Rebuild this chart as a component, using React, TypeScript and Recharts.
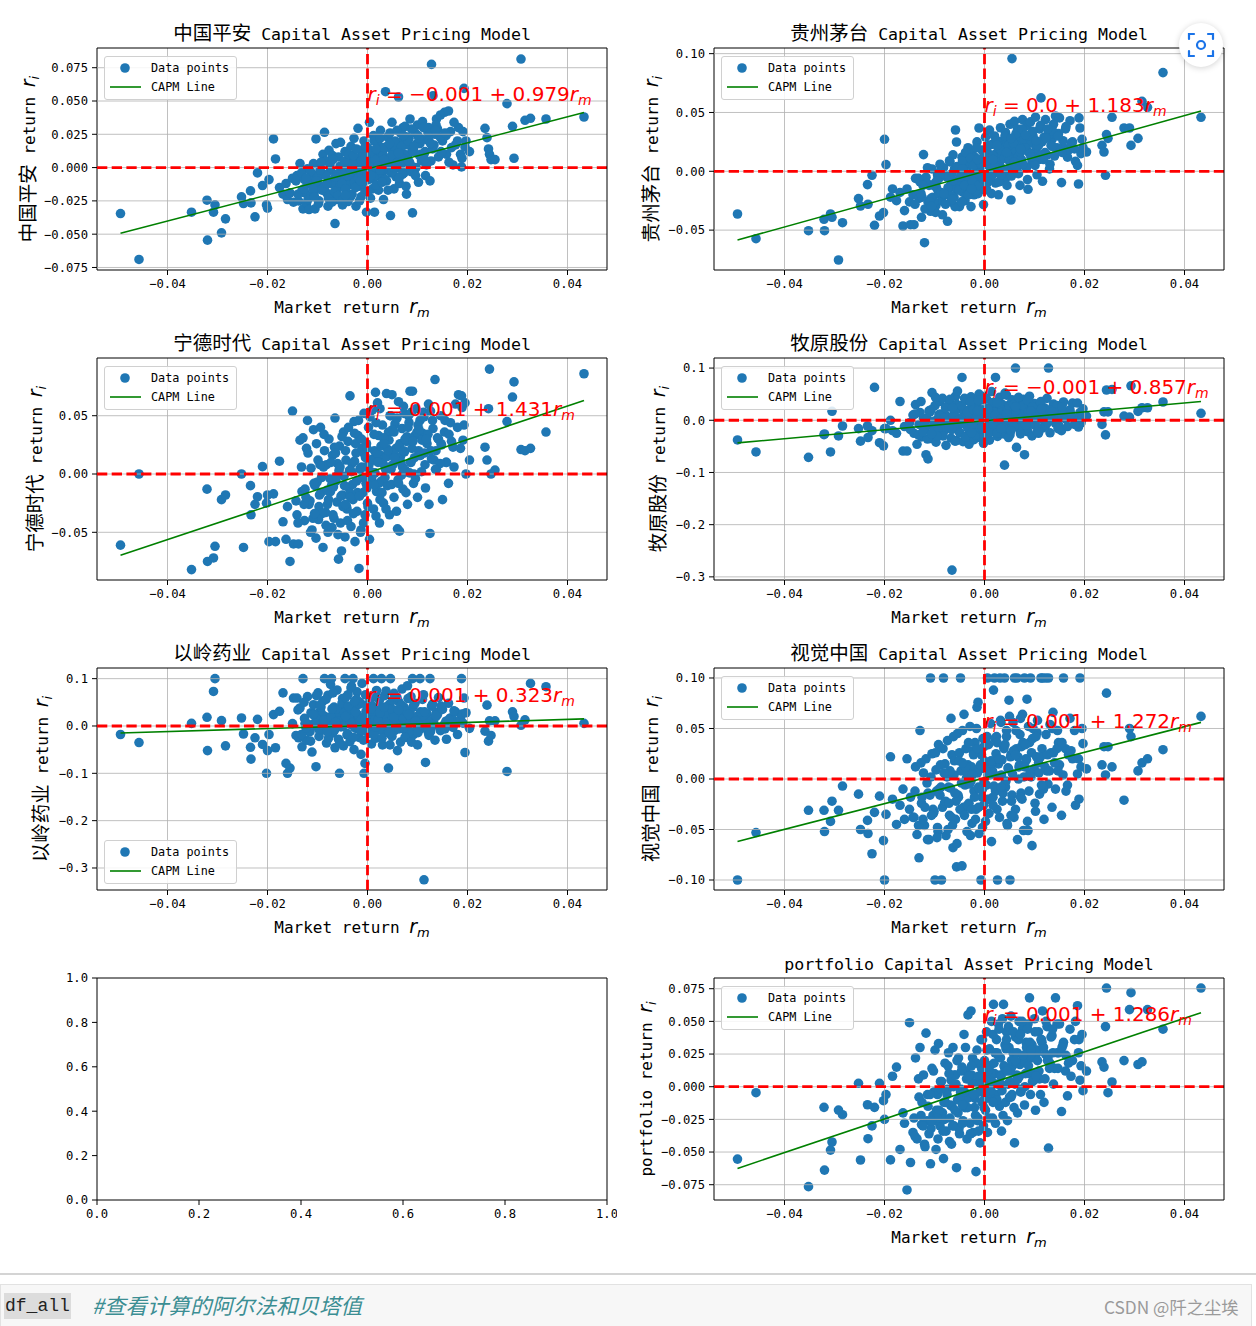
import { ReferenceLine, Scatter, ScatterChart, XAxis, YAxis } from 'recharts'

// market daily return (%), shared by every panel
const marketReturn = [
  -4.94, -4.57, -3.52, -3.21, -3.2, -3.08, -3.05, -2.92, -2.84, -2.52,
  -2.48, -2.34, -2.33, -2.25, -2.2, -2.1, -2.02, -2.0, -1.97, -1.88,
  -1.84, -1.76, -1.69, -1.63, -1.6, -1.55, -1.5, -1.48, -1.43,
  -1.41, -1.38, -1.35, -1.31, -1.29, -1.26, -1.22, -1.2, -1.17, -1.13,
  -1.11, -1.08, -1.05, -1.03, -0.99, -0.97, -0.94, -0.92, -0.89, -0.86,
  -0.84, -0.82, -0.79, -0.77, -0.74, -0.72, -0.7, -0.67, -0.65, -0.63,
  -0.61, -0.58, -0.56, -0.54, -0.52, -0.5, -0.48, -0.45, -0.43, -0.41,
  -0.39, -0.37, -0.35, -0.33, -0.31, -0.29, -0.27, -0.25, -0.23, -0.21,
  -0.19, -0.17, -0.15, -0.13, -0.11, -0.09, -0.07, -0.05, -0.03, -0.02,
  0.0, 0.02, 0.04, 0.06, 0.08, 0.1, 0.12, 0.14, 0.16, 0.18,
  0.2, 0.22, 0.24, 0.26, 0.28, 0.3, 0.32, 0.34, 0.36, 0.38,
  0.4, 0.42, 0.44, 0.46, 0.49, 0.51, 0.53, 0.55, 0.57, 0.6,
  0.62, 0.64, 0.66, 0.69, 0.71, 0.73, 0.76, 0.78, 0.8, 0.83,
  0.85, 0.87, 0.9, 0.92, 0.95, 0.97, 1.0, 1.02, 1.05, 1.08,
  1.1, 1.13, 1.16, 1.19, 1.22, 1.25, 1.28, 1.31, 1.35, 1.38,
  1.42, 1.46, 1.5, 1.54, 1.58, 1.62, 1.66, 1.71, 1.76, 1.82,
  -0.96, -0.88, -0.8, -0.75, -0.68, -0.6, -0.53, -0.47, -0.42, -0.36,
  -0.3, -0.26, -0.2, -0.14, -0.1, -0.06, -0.01, 0.03, 0.07, 0.11,
  0.15, 0.19, 0.23, 0.27, 0.31, 0.35, 0.39, 0.43, 0.47, 0.52,
  0.56, 0.61, 0.65, 0.7, 0.74, 0.79, 0.84, 0.89, 0.94, 0.99,
  1.04, 1.09, 1.15, 1.21, 1.27, 1.33, 1.4, 1.48, 1.57, 1.68,
  -1.25, -1.15, -1.01, -0.91, -0.57, -0.34, -0.12, 0.13, 0.41, 0.67,
  1.86, 1.88, 1.89, 1.91, 1.93, 1.95, 1.97, 2.04, 2.35, 2.39,
  2.42, 2.44, 2.47, 2.55, 2.79, 2.9, 2.93, 3.07, 3.15, 3.26,
  3.57, 4.33,
  -1.39, -1.32, -1.27, -1.19, -1.14, -1.07, -1.02, -0.98, -0.93, -0.87,
  -0.83, -0.78, -0.73, -0.69, -0.66, -0.62, -0.59, -0.55, -0.51, -0.49,
  -0.46, -0.44, -0.4, -0.38, -0.34, -0.32, -0.28, -0.24, -0.22, -0.18,
  -0.16, -0.12, -0.08, -0.04, -0.01, 0.01, 0.05, 0.09, 0.13, 0.17,
  0.21, 0.25, 0.29, 0.33, 0.37, 0.41, 0.45, 0.48, 0.5, 0.54,
  0.58, 0.59, 0.63, 0.68, 0.72, 0.75, 0.77, 0.81, 0.86, 0.88,
  0.91, 0.96, 1.01, 1.06, 1.12, 1.18, 1.23, 1.3, 1.37, 1.45,
  -1.23, -1.09, -0.95, -0.81, -0.71, -0.64, -0.44, -0.26, -0.14, -0.04,
  0.07, 0.17, 0.25, 0.33, 0.44, 0.53, 0.62, 0.72, 0.82, 0.93,
  1.03, 1.14, 1.26, 1.36, 1.47, 1.55, 1.63, 1.73, 1.8, -1.06,
]

// stock / portfolio daily returns (%), same order as marketReturn
const pingAn = [
  -3.45, -6.9, -3.35, -2.45, -5.45, -3.35, -2.8, -4.9, -3.85, -2.2,
  -2.7, -1.75, -2.65, -3.7, -0.4, -1.35, -2.8, -3.05, -0.9, 2.15,
  0.65, -1.5, -2.0, -1.2, -2.4, -1.9, -0.8, -2.6, -1.0,
  -0.6, -2.5, 0.3, -1.7, -3.1, -0.9, -2.7, -0.1, -3.15, -0.6,
  -2.1, 0.3, -3.1, 2.15, -0.8, -2.5, 0.0, -1.4, 1.0, 2.65,
  -1.8, 0.5, -2.9, 1.3, -0.2, -2.2, 0.9, -1.1, -4.2, 1.8,
  -2.4, 0.8, -1.3, 1.9, -0.7, -2.8, 0.2, 1.2, -1.9, -0.3,
  -2.55, 0.9, -1.1, 1.6, -2.0, 0.1, 2.2, -0.8, -2.9, 0.6,
  2.95, -1.4, 0.7, -2.2, 1.3, -0.6, 2.0, -1.8, 0.3, -3.35,
  1.5, -0.9, 3.4, -2.3, 0.4, -1.6, 2.4, -3.35, 0.9, -0.3,
  1.9, -1.7, 0.7, 2.8, -0.5, 1.2, -2.4, 0.2, 5.7, -1.0,
  2.3, -0.2, 1.5, -3.6, 3.4, 0.4, -1.6, 2.0, -0.7, 1.1,
  5.3, -1.2, 2.6, 0.3, 3.0, -0.4, 1.7, -2.0, 0.9, 2.2,
  3.65, -0.3, -3.4, 1.4, 2.6, 0.0, 3.2, -1.1, 1.8, 0.5,
  3.45, 1.0, -0.6, 2.1, 3.0, -1.0, 7.75, 5.4, 2.5, 3.65,
  0.8, 3.95, 2.0, 4.15, 1.0, 4.25, 2.7, 0.2, 1.7, 3.0,
  -1.5, -0.5, -2.0, 0.2, -0.9, -1.6, -0.2, -1.0, 0.4, -1.3,
  0.3, -1.1, -0.4, 0.8, -1.2, 0.5, -0.5, 0.9, -0.8, 0.2,
  0.6, -0.6, 1.3, -0.2, 0.9, -0.9, 1.6, 0.3, -0.4, 0.9,
  1.4, 0.0, 1.9, -0.5, 1.0, 2.3, 0.4, 1.3, -0.2, 1.8,
  0.9, 2.1, 1.2, 2.6, 0.5, 1.7, 2.9, 1.1, 2.4, 1.5,
  -1.9, -1.2, -0.6, -1.7, -0.9, -0.2, 0.1, -0.7, 0.5, 0.8,
  1.0, 0.05, 0.7, 2.7, 5.95, 1.55, 2.0, 1.2, 2.95, 2.25,
  1.4, 1.0, 0.6, 0.6, 4.8, 3.1, 0.7, 8.15, 3.55, 3.7,
  3.65, 3.8,
  -2.0, -0.4, -1.6, -2.4, -0.3, -1.9, -1.0, -2.7, 0.4, -1.5,
  -0.6, -2.3, -1.2, 0.6, -1.8, -0.5, -2.1, 0.1, -1.2, -2.4,
  0.5, -1.6, -0.6, 1.0, -2.2, -0.3, 0.9, -1.5, 1.4, -0.8,
  -2.5, 0.5, -1.0, 1.6, -0.3, -1.8, 1.1, 0.0, 2.0, -1.3,
  0.1, 2.2, -1.1, 1.5, 0.5, -1.7, 2.6, 0.9, -0.3, 1.9,
  0.3, 2.8, -0.8, 1.6, 0.6, 3.1, -1.4, 2.0, 0.2, 2.9,
  1.2, -0.6, 2.4, 1.0, 3.0, 0.2, 2.0, 1.4, 3.2, 2.3,
  -0.8, -1.6, -0.2, -1.2, -2.6, -0.7, -2.1, -0.1, -1.0, 0.8,
  -0.6, 1.4, -0.2, 0.6, 1.8, 0.0, 1.1, 2.4, 0.5, 1.6,
  2.2, 0.6, 1.8, 2.8, 1.2, 2.6, 0.4, 3.4, 2.0, -2.2,
]

const maotai = [
  -3.63, -5.73, -5.05, -4.08, -5.05, -3.63, -3.91, -7.54, -4.37, -2.32,
  -2.95, -1.13, -2.8, -0.34, -4.59, -3.8, -3.51, 2.72, 0.57, -2.2,
  -1.5, -2.5, -1.8, -4.65, -3.34, -1.5, -2.6, -4.54, -2.0,
  -4.54, -0.6, -2.0, -2.3, -0.9, -3.91, 1.42, -6.07, -0.5, -2.6,
  -1.2, -3.4, 0.2, -2.2, -1.0, -2.9, -0.3, -1.9, 0.6, -2.5,
  -3.7, 0.3, -2.0, -0.4, -4.25, -1.5, 0.9, -2.6, -0.2, 1.4,
  -2.2, 3.51, 2.49, -1.0, 0.4, -3.0, -0.7, 1.2, -1.8, 0.0,
  -2.5, 1.0, -0.9, 2.0, -1.6, 0.5, -3.0, 1.5, -0.4, -2.0,
  1.2, -0.9, 2.5, -1.9, 3.68, 0.3, -1.3, 1.8, -0.6, -2.83,
  0.8, 2.9, -1.5, 1.6, -0.3, 3.5, 0.2, -1.9, 2.3, 1.0,
  3.0, -1.0, 1.4, 2.2, -2.0, 0.6, 3.7, 1.1, -0.8, 2.6,
  1.5, 3.3, -0.5, 2.4, 0.9, 4.0, -2.44, 9.58, 1.8, 4.25,
  2.9, 0.2, 3.6, 1.3, -1.2, 2.6, 4.4, 0.5, 3.1, 1.9,
  3.9, -1.53, 2.4, 4.2, 0.8, 3.0, 1.6, 4.6, -0.3, 2.2,
  3.6, 6.24, -0.85, 2.9, 4.4, 1.4, 3.3, 0.6, 2.7, 4.0,
  4.7, 3.1, 4.54, -0.96, 2.0, 3.6, 1.2, 4.3, 2.5, 0.85,
  -1.4, 0.0, -1.9, -0.5, -1.2, 0.2, -0.9, -0.1, -1.3, 0.5,
  -0.7, 0.8, -1.1, 0.3, -0.2, 1.0, -0.8, 0.6, 1.3, -0.4,
  0.9, -0.2, 1.5, 0.4, 1.9, -0.5, 1.1, 2.1, 0.2, 1.4,
  0.6, 1.8, -0.1, 2.2, 1.0, 2.7, 0.3, 1.6, 2.4, 0.9,
  2.0, 1.0, 2.5, 1.6, 3.0, 2.2, 1.3, 3.2, 2.6, 1.8,
  -2.2, -1.0, -2.6, -0.6, -1.5, 0.7, -0.2, 0.4, -0.5, 1.2,
  0.5, -1.08, 4.54, 3.68, 1.5, 2.72, 2.0, 1.64, 2.21, 1.64,
  -0.34, 3.12, 2.8, 4.59, 3.68, 3.68, 2.2, 2.8, 5.95, 5.44,
  8.39, 4.59,
  -2.8, -0.6, -1.9, -3.2, 0.3, -2.3, -1.2, -3.5, -0.4, -1.8,
  -0.2, -2.8, -1.4, 0.8, -2.1, -0.8, -3.0, 0.4, -1.6, -0.5,
  -2.6, 0.9, -1.2, 1.6, -0.4, -2.0, 1.1, -0.9, 0.5, -1.7,
  2.0, -1.2, 0.7, -0.6, 1.5, -1.6, 0.9, 2.2, -0.5, 1.3,
  0.4, 2.6, -0.9, 1.8, 0.2, 3.0, -1.2, 2.2, 1.0, -0.4,
  2.4, 0.8, 3.2, -0.2, 1.6, 3.6, 0.6, 2.0, -0.7, 3.0,
  1.5, 3.4, 0.5, 2.2, 3.9, 1.0, 2.8, 0.2, 3.4, 2.0,
  -1.2, -2.6, -0.8, -1.9, -0.4, -2.4, 0.2, -1.5, 1.0, -0.4,
  -0.9, 1.0, 2.2, -0.3, 1.6, 2.8, 0.4, 1.9, 3.1, 1.2,
  2.6, 1.4, 3.6, 2.1, 3.0, 1.6, 3.8, 2.4, 1.9, -3.0,
]

const ningde = [
  -6.1, 0.0, -8.2, -1.3, -7.5, -7.2, -6.2, -2.2, -1.8, 0.0,
  -6.3, -1.0, -3.5, -2.6, -1.95, 0.63, -2.5, -1.8, -5.8, -1.7,
  -5.8, 1.1, -4.1, -5.6, -2.8, -7.5, 5.4, -6.0, -2.3,
  -3.5, -6.0, 2.9, -1.5, 3.1, -4.0, 2.2, 4.6, -2.6, 0.5,
  -4.8, 3.8, -1.0, -5.5, 1.2, -2.8, 4.0, -0.3, -6.3, 2.0,
  -3.3, 0.8, -5.0, 3.0, -1.5, -1.0, 1.6, -3.8, 4.8, -0.6,
  -2.4, -7.3, 2.4, -4.2, -6.6, -1.8, 3.6, -5.4, 1.2, -3.0,
  2.8, -1.2, 6.7, -4.5, 0.9, -2.2, 4.5, -5.8, 1.8, -3.2,
  3.3, -8.1, 0.4, -4.8, 2.2, -1.6, 5.2, -3.5, -0.8, 2.6,
  -2.5, 4.0, -5.6, 1.1, -0.4, 5.5, -3.0, 2.0, 7.0, -1.5,
  6.1, 3.3, -4.2, 1.6, -0.6, 4.2, -2.5, 2.9, 0.4, 6.9,
  -1.0, 3.6, -3.5, 5.0, 6.8, 0.8, -2.0, 4.3, 2.2, -4.7,
  6.2, -4.9, 1.5, 3.9, -1.3, 5.2, 0.3, 2.8, -2.6, 4.4,
  7.1, 1.0, 7.1, -0.8, 3.3, 5.6, -2.0, 2.0, 4.6, 0.2,
  3.5, 4.9, -1.2, 2.6, 6.0, -5.1, 1.3, 3.9, 8.1, 0.4,
  3.0, 5.0, -2.2, 3.6, 1.0, -0.8, 4.4, 2.3, 6.0, 6.8,
  -1.8, 0.6, -2.6, -0.4, -1.1, 0.9, -1.9, -0.2, -2.8, 0.3,
  -0.9, 1.1, -1.6, 0.5, -0.3, 1.7, -1.2, 0.8, -0.6, 1.3,
  0.1, 1.8, -0.8, 2.4, 0.9, -0.3, 1.5, 2.9, 0.4, 1.9,
  1.2, -0.5, 2.6, 0.6, 1.9, 3.2, 0.1, 2.2, 1.4, 3.6,
  1.6, 2.9, 0.8, 3.4, 2.0, 1.2, 3.1, 2.5, 1.0, 2.8,
  -1.3, -2.3, -0.7, -3.4, 0.3, -1.7, 0.6, -0.9, 2.1, 1.0,
  2.2, 6.7, 5.7, 2.9, 4.2, 6.1, 0.0, 1.2, 2.3, 1.2,
  5.6, 9.0, 0.0, 0.34, 4.5, 6.6, 7.9, 2.1, 2.0, 2.2,
  3.6, 8.6,
  -4.2, 0.6, -2.6, 1.8, -5.0, -0.8, 2.6, -3.9, -1.6, 3.4,
  -4.4, -2.2, 1.0, -3.5, 2.3, -0.2, -5.2, 0.6, 3.2, -2.8,
  -1.0, 2.0, -4.0, 4.0, -2.0, 0.2, -3.4, 2.6, -0.6, 4.6,
  -1.9, 3.0, -4.2, 0.6, 2.2, -2.8, 4.9, -0.2, 3.4, -3.6,
  1.0, 5.6, -1.6, 3.1, -3.0, 2.0, 5.0, -0.9, 3.8, 1.4,
  -3.2, 4.8, 2.4, -0.1, 5.8, 3.0, -1.6, 4.0, 1.0, 5.3,
  2.8, -0.4, 4.2, 1.6, 5.3, 3.0, -2.6, 4.6, 2.0, 0.9,
  -2.0, -3.8, 0.8, -1.4, -4.6, 1.8, -2.6, 3.5, -5.0, 1.4,
  0.2, 4.4, -2.2, 2.6, 0.6, 3.6, -0.8, 2.0, 5.0, 0.0,
  3.8, 1.8, 5.4, 0.4, 2.6, 4.6, 3.4, 0.6, 4.0, -3.4,
]

const muyuan = [
  -3.77, -6.07, -7.1, -2.76, -2.62, -6.07, 1.72, -3.0, -1.1, -1.6,
  -4.0, -1.1, -3.3, -2.0, 6.3, -4.3, -4.9, -1.6, -1.6, 0.0,
  -2.0, -2.5, 3.6, -5.9, -1.2, -5.9, -0.5, -1.8, 1.0,
  -2.5, 3.0, -4.6, -0.8, 1.5, -3.2, 0.4, -1.9, -6.6, -7.4,
  1.8, -3.5, 5.3, -1.2, 2.8, -4.2, 0.2, -2.6, 3.6, -0.5,
  4.2, -2.2, 1.0, -4.8, 2.6, -0.9, 3.3, -3.4, -28.7, 0.6,
  -1.6, 4.6, -3.9, 5.6, 0.3, -2.3, 2.2, 8.2, -4.1, 1.4,
  -0.7, 3.8, -3.0, 1.9, -4.6, 0.6, 4.5, -1.8, 2.6, -3.7,
  0.9, -2.4, 3.0, -0.4, 5.0, -3.3, 1.5, -1.1, 3.9, -4.4,
  1.2, -2.0, 4.1, -0.3, 2.4, -3.8, 0.7, 5.5, -1.4, 3.2,
  -0.9, 8.2, 2.7, -3.1, 1.3, 4.4, -1.9, 0.2, 3.0, -2.6,
  -8.6, 1.9, 4.8, -1.3, 2.9, -2.8, 0.6, 3.9, -0.4, 2.1,
  10.0, -5.2, 1.6, 3.6, -1.8, 2.4, -0.7, 4.0, -6.6, 1.2,
  2.9, -2.2, 4.6, 0.4, -3.0, 1.8, 3.2, -1.0, 2.2, -2.5,
  1.0, 3.6, -1.5, 2.4, 0.1, 4.2, 10.0, -2.4, 1.7, 3.1,
  -0.6, 2.4, 1.0, -2.0, 3.5, 0.5, -1.2, 2.0, 3.3, 0.3,
  -0.8, 1.2, -1.5, 0.7, -0.2, 1.6, -1.0, 0.4, -0.6, 1.0,
  0.2, -0.9, 1.1, -0.4, 0.6, -1.3, 0.9, -0.2, 1.4, -0.7,
  0.5, 1.6, -0.6, 0.9, -1.1, 1.9, 0.3, -0.3, 1.2, 0.0,
  1.0, -0.4, 1.8, 0.6, -1.0, 1.3, 0.1, 2.0, -0.3, 0.9,
  1.4, 0.2, 2.3, -0.5, 1.1, 0.7, 1.9, -0.9, 1.5, 0.6,
  -1.0, 0.3, -2.0, 1.1, -0.5, -1.4, 0.6, 0.2, -0.2, 0.5,
  3.3, -1.3, 0.5, 1.5, -0.5, 0.2, 2.2, 0.8, -0.8, 1.6,
  -2.8, 5.8, 1.6, 5.9, 0.8, 0.6, 6.6, 1.7, 2.4, 2.4,
  3.5, 1.34,
  1.2, -2.8, 3.6, -1.0, -3.6, 2.0, -0.2, 4.4, -2.0, 0.8,
  -3.0, 2.4, -0.6, 4.0, -1.8, 1.0, -4.0, 3.0, 0.1, -2.4,
  2.8, -0.4, 4.2, -3.2, 1.6, -1.5, 3.5, -0.8, 2.0, -2.8,
  0.4, 3.8, -1.6, 2.0, -3.0, 4.6, -0.6, 1.6, -2.2, 3.4,
  1.0, -2.4, 3.2, 0.2, -1.4, 5.2, 1.8, -3.3, 2.6, 0.0,
  3.0, -1.2, 1.4, 4.4, -2.6, 0.6, 2.8, -0.2, 3.8, 1.6,
  -0.8, 2.6, 0.8, -2.2, 3.4, 1.2, -0.9, 2.0, 0.4, 2.8,
  -2.2, 1.6, -3.0, 0.4, -1.2, 2.4, -0.6, -2.4, 1.8, -1.6,
  2.2, -0.8, 3.4, -1.6, 1.2, -2.0, 2.6, 0.2, -0.9, 1.8,
  0.6, 2.2, -0.4, 1.6, -1.6, 2.6, 0.2, 1.2, -0.8, -2.6,
]

const yiling = [
  -1.8, -3.5, 0.56, 1.83, -5.2, 7.3, 10.0, 1.13, -4.2, 1.69,
  -1.69, -4.5, -7.0, -2.5, 1.4, -3.9, -10.0, -5.2, -1.8, 2.4,
  -4.6, 3.1, 7.0, -7.9, -10.0, -8.9, 0.5, 5.9, -2.0,
  5.9, -2.5, 3.8, -4.4, 10.0, 1.6, -3.0, 6.2, -1.2, 2.8,
  -5.5, 4.5, 0.3, -8.6, 7.0, -2.2, 3.2, -0.8, 5.3, 10.0,
  1.9, -3.6, 6.5, 0.6, 8.8, 10.0, -1.5, 4.0, -4.6, 2.4,
  7.6, -2.8, -10.0, 3.5, 0.2, 5.8, -4.2, 10.0, 1.4, -1.9,
  6.6, 2.6, -3.3, 8.0, 0.8, 10.0, -5.0, 3.9, -0.5, 7.2,
  1.8, -2.4, 5.0, -6.0, 9.0, 0.0, -10.0, -7.9, 3.1, 4.4,
  2.2, -1.6, 6.0, 0.5, -3.8, 4.2, 10.0, 1.3, -2.6, 7.5,
  3.6, -0.8, 5.5, 1.0, 10.0, -4.0, 2.5, 6.4, -1.2, 3.8,
  0.7, -8.9, 4.6, 10.0, -2.2, 2.0, 6.9, -0.4, 3.3, -5.2,
  5.2, 1.5, -3.4, 7.8, 0.3, 4.0, -1.0, 2.8, 8.5, -2.5,
  3.0, 6.2, 10.0, -1.8, 4.8, 0.9, -4.0, 2.2, 10.0, -0.5,
  5.6, -32.5, -7.7, 2.6, -1.5, 10.0, 4.2, 0.1, -3.0, 2.9,
  6.0, -1.0, 3.5, 0.4, -2.8, 4.8, 1.7, -0.3, 3.0, 0.8,
  0.8, 2.2, -0.6, 1.6, 0.2, 2.8, -0.2, 1.2, 3.1, 0.4,
  1.5, -0.3, 2.4, 0.9, -1.0, 1.8, 0.3, 2.7, -0.5, 1.1,
  2.0, 0.4, -0.8, 1.6, 3.0, 0.1, 1.2, -1.4, 2.3, 0.6,
  1.0, 2.6, -0.2, 1.5, 0.3, 2.1, -1.1, 0.8, 1.9, -0.4,
  1.3, 0.2, 2.0, -0.9, 1.1, 0.5, 2.4, -0.2, 1.0, 1.7,
  0.5, -1.2, 1.4, -0.5, 2.0, 0.9, -0.7, 1.6, 0.2, 1.2,
  1.5, 10.0, 2.5, 0.6, 5.9, -5.6, 2.8, -0.5, -1.1, 4.4,
  -3.2, 1.1, -2.0, 1.1, -9.6, 3.0, 2.0, 0.14, 1.3, 9.0,
  8.3, 0.56,
  3.4, -1.8, 5.0, 0.4, -3.2, 2.6, 6.4, -0.6, 4.0, 1.2,
  5.6, -2.6, 2.0, 7.0, -0.9, 3.6, 1.0, -3.6, 4.8, 0.0,
  2.8, 6.0, -1.6, 4.2, 0.6, 8.4, -2.4, 3.0, 5.6, -0.4,
  4.6, 1.4, -3.0, 6.6, 2.4, -0.8, 5.0, 3.2, -1.8, 6.2,
  1.2, 4.0, -2.6, 2.6, 7.4, 0.2, -4.0, 3.6, 5.4, -1.0,
  2.2, 6.0, -0.6, 4.4, 1.6, -2.4, 3.2, 5.8, 0.8, -3.4,
  4.0, 1.0, -1.4, 3.0, 6.6, 0.4, -2.0, 4.6, 2.0, -0.6,
  -0.4, 2.4, 4.4, -1.2, 3.6, 0.8, 2.0, 5.2, -0.8, 1.6,
  3.6, -0.2, 2.8, 4.0, -1.6, 1.8, 3.4, -0.4, 2.4, 4.6,
  0.2, 3.0, -1.2, 2.2, 4.2, -0.6, 1.4, 3.2, -1.8, 0.6,
]

const shijue = [
  -10.0, -5.3, -3.1, -3.1, -5.2, -4.2, -2.2, -3.1, -0.7, -1.5,
  -5.0, -4.1, -5.4, -7.4, -3.3, -1.7, -6.1, -10.0, -3.5, 2.2,
  -2.0, -4.5, -2.6, -1.0, -4.0, 2.0, -3.0, -1.8, -3.8,
  -3.8, 1.2, -5.5, -7.8, 4.8, -2.4, 0.6, -4.6, 2.0, -1.4,
  -6.0, 10.0, 2.5, -3.0, -10.0, 0.9, -4.8, 3.4, -1.6, -10.0,
  -2.8, 10.0, 1.5, -5.6, 3.8, -0.8, -3.6, 6.0, 2.4, -6.8,
  0.4, -4.0, -8.7, 4.5, -1.8, 2.6, 10.0, -8.6, -3.2, 6.4,
  -0.6, 3.0, -5.2, 1.4, -2.4, 5.2, -0.2, -4.4, 2.8, -1.2,
  3.6, -3.0, 7.1, 7.6, -5.4, 1.0, -10.0, -1.8, 4.0, -2.6,
  1.8, -4.2, -0.6, 10.0, 3.4, -2.0, 5.5, -6.2, 0.8, 8.8,
  10.0, -1.2, 4.2, -10.0, 1.5, -3.8, 5.8, 0.4, -2.2, 3.2,
  10.0, -0.8, 4.8, -4.6, 7.8, -10.0, 2.4, -1.6, 5.6, 10.0,
  -3.0, 3.0, -6.0, 1.2, 4.4, -1.4, 6.4, -5.1, 10.0, 2.0,
  7.9, -5.1, 3.6, 10.0, -6.6, 5.0, 0.8, -3.2, 4.6, 1.6,
  -1.5, 10.0, 10.0, -4.0, 10.0, 0.8, 10.0, 5.4, -2.8, 2.6,
  -1.0, 4.8, 1.4, -3.6, 10.0, 3.0, -0.6, 6.0, 2.0, -2.6,
  -1.2, 1.4, -2.4, 0.2, -0.9, 1.8, -1.6, 0.8, -2.8, 0.1,
  -0.5, 1.2, -1.8, 0.6, -1.0, 2.4, -0.3, 1.0, -2.0, 0.4,
  1.6, -0.7, 2.5, 0.3, 10.0, 1.9, 3.0, -0.2, 1.1, 2.2,
  0.5, 2.8, 10.0, 1.4, 3.2, 0.2, 1.9, -1.2, 2.6, 1.0,
  2.2, 0.6, 3.0, 1.2, -0.5, 2.6, 1.6, 3.6, 0.4, 2.4,
  -1.8, -0.4, -3.2, -1.0, -2.2, 0.6, -0.8, 1.6, -0.4, 2.2,
  0.5, 2.0, -2.0, 10.0, 1.2, 5.0, 3.5, 1.0, 1.4, 3.2,
  0.4, 8.5, 3.2, 1.2, -2.1, 5.0, 4.2, 0.8, 1.6, 2.0,
  2.9, 6.2,
  -1.2, -4.6, 1.6, -2.8, -6.0, 0.2, -3.4, 2.6, -5.2, -0.8,
  3.0, -2.2, -5.0, 0.8, -3.8, 4.2, -1.4, -6.4, 1.8, -3.0,
  -0.4, 4.8, -3.6, 1.2, -2.6, 3.6, -5.6, 0.4, 2.4, -4.0,
  5.0, -2.8, 1.4, -4.8, 3.2, -0.6, 4.2, -3.4, 1.8, -1.8,
  4.0, -3.0, 2.0, 5.6, -1.4, 3.4, -4.4, 1.0, 6.2, -2.2,
  2.8, -3.8, 4.8, 0.0, 6.0, -2.0, 3.6, 1.2, -4.2, 5.2,
  0.6, 4.0, -2.4, 5.8, 2.2, -1.0, 4.4, 0.8, 6.6, 3.0,
  -4.0, -1.6, -5.8, 0.6, -2.4, -4.6, 1.6, -3.0, 3.0, -1.0,
  0.4, -2.6, 3.6, -0.8, 4.2, -3.6, 2.4, -1.8, 3.4, 0.2,
  4.2, -0.6, 2.4, 5.0, 0.8, 3.6, -1.2, 2.8, 4.8, -3.6,
]

const portfolio = [
  -5.54, -0.46, -7.65, -1.58, -6.38, -4.85, -4.23, -1.79, -2.14, 0.26,
  -5.61, -1.38, -3.98, -3.0, -1.58, 0.26, -1.07, -2.5, -0.6, -5.6,
  0.8, 1.5, -4.8, -2.0, -2.8, -7.9, 4.9, -5.8, -3.5,
  -2.4, 2.2, -4.0, -0.8, 3.0, -2.9, 0.9, -4.4, 4.1, -1.5,
  -3.6, -5.9, 1.4, -2.2, 2.8, -4.8, -0.6, 3.3, -3.0, 0.4,
  -2.0, -5.5, 1.8, -3.4, -0.2, 2.6, -4.2, 0.5, -1.5, 3.0,
  -3.0, 0.9, -6.2, -1.0, 2.2, -3.6, -0.4, 1.5, -2.6, 4.0,
  -1.6, 1.2, -4.0, 5.5, -0.6, -2.8, 5.8, 0.3, -3.5, 1.9,
  -0.9, -6.5, 2.8, -2.4, 0.6, -4.3, 3.6, -1.2, 1.3, -3.0,
  2.0, -1.8, 4.2, -3.5, 0.4, 2.9, -0.9, 5.0, -2.4, 6.3,
  1.0, -2.8, 3.6, 0.2, 4.8, -1.5, 2.2, -3.4, 5.2, 6.3,
  1.5, -1.2, 4.2, -2.6, 3.0, 0.4, 5.4, -0.6, 2.6, -4.3,
  3.8, 0.9, -2.0, 5.0, 1.7, -0.4, 4.4, 2.2, -1.4, 3.4,
  2.4, 4.8, 6.8, -0.6, 3.2, 1.0, 5.2, -1.8, 2.6, 4.2,
  0.6, 3.6, 5.8, -1.2, 2.5, 4.6, -4.7, 1.8, 3.9, 0.2,
  6.8, 2.6, 4.8, -1.9, 3.4, 1.2, -0.7, 4.4, 2.0, 5.0,
  -1.8, 0.4, -2.5, -0.6, -1.4, 0.9, -2.0, -0.2, -1.0, 0.6,
  -0.8, 0.9, -1.6, 0.3, -0.4, 1.4, -1.0, 0.7, -0.2, 1.6,
  0.4, 1.8, -0.6, 2.4, 0.9, -0.3, 1.6, 2.9, 0.2, 1.2,
  1.6, 0.2, 2.6, 0.8, -0.2, 1.9, 3.0, 1.0, 2.2, 0.5,
  2.8, 1.2, 3.4, 0.6, 2.2, 3.8, 1.4, 2.6, 3.2, 1.8,
  -1.2, -2.6, -0.4, -1.8, 0.2, -0.9, 0.8, -0.3, 1.2, 0.6,
  6.2, 2.6, 3.6, 0.5, 1.6, 4.0, -0.3, 1.2, 1.9, 1.5,
  4.6, 7.55, -0.46, 0.36, 2.0, 5.9, 7.2, 1.7, 1.9, 5.9,
  4.4, 7.55,
  -3.8, 0.6, -2.2, -4.6, -0.6, -3.2, 1.2, -2.6, -4.0, -0.2,
  -3.4, -1.2, 1.6, -2.4, -4.4, 0.0, -1.8, 2.0, -3.2, -0.8,
  1.2, -2.8, -0.4, 3.0, -1.6, 0.8, -3.6, 2.2, -0.6, -2.2,
  1.8, -3.4, 0.2, 3.6, -1.6, -0.4, 2.8, -2.4, 1.0, 4.0,
  2.6, -1.0, 4.4, 0.8, -2.2, 3.2, 1.2, 4.6, -0.8, 2.0,
  4.2, -1.6, 1.8, 3.6, -0.4, 5.0, 2.4, 0.0, 4.4, 1.6,
  3.4, 0.4, 4.2, 2.0, -0.6, 3.0, 5.0, 1.4, 2.6, 4.8,
  -3.0, -0.6, -2.4, -1.2, 1.0, -3.0, -1.4, 1.6, -2.6, 0.2,
  1.2, -1.2, 2.6, 0.2, 3.6, -0.8, 2.0, 4.0, 1.0, 2.8,
  0.8, 3.6, 2.0, 4.4, 1.4, 3.0, 2.4, 0.8, 3.6, -2.6,
]

const xTicks = [-0.04, -0.02, 0, 0.02, 0.04]
const xDomain = [-0.0541, 0.0479]
const ticks3 = [-0.075, -0.05, -0.025, 0, 0.025, 0.05, 0.075]
const ticksTenth = [-0.3, -0.2, -0.1, 0, 0.1]
const unitTicks = [0, 0.2, 0.4, 0.6, 0.8, 1]

const BLUE = '#1f77b4'
const GREEN = '#008000'
const RED = '#ff0000'
const GRID = '#b0b0b0'
const MONO = "'DejaVu Sans Mono', monospace"
const CJK = "'Noto Sans CJK SC', sans-serif"
const MATH = "'DejaVu Sans', sans-serif"

const PLOT_W = 510
const PLOT_H = 222
const PAD_L = 100
const PAD_T = 40
const CHART_W = 620
const CHART_H = 320
const AXIS_H = 30

const panels = [
  { name: '中国平安', cjk: true, values: pingAn, left: 97, top: 48, yDomain: [-0.0769, 0.0898], yTicks: ticks3, dec: 3, alpha: -0.001, beta: 0.979, alphaText: '\u22120.001', betaText: '0.979', labelDx: -69 },
  { name: '贵州茅台', cjk: true, values: maotai, left: 714, top: 48, yDomain: [-0.0839, 0.1048], yTicks: [-0.05, 0, 0.05, 0.1], dec: 2, alpha: 0, beta: 1.183, alphaText: '0.0', betaText: '1.183', labelDx: -63 },
  { name: '宁德时代', cjk: true, values: ningde, left: 97, top: 358, yDomain: [-0.0909, 0.0995], yTicks: [-0.05, 0, 0.05], dec: 2, alpha: 0.001, beta: 1.431, alphaText: '0.001', betaText: '1.431', labelDx: -62 },
  { name: '牧原股份', cjk: true, values: muyuan, left: 714, top: 358, yDomain: [-0.306, 0.1193], yTicks: ticksTenth, dec: 1, alpha: -0.001, beta: 0.857, alphaText: '\u22120.001', betaText: '0.857', labelDx: -56 },
  { name: '以岭药业', cjk: true, values: yiling, left: 97, top: 668, yDomain: [-0.3465, 0.1225], yTicks: ticksTenth, dec: 1, alpha: 0.001, beta: 0.323, alphaText: '0.001', betaText: '0.323', labelDx: -56, legendBottom: true },
  { name: '视觉中国', cjk: true, values: shijue, left: 714, top: 668, yDomain: [-0.1099, 0.1099], yTicks: [-0.1, -0.05, 0, 0.05, 0.1], dec: 2, alpha: 0.001, beta: 1.272, alphaText: '0.001', betaText: '1.272', labelDx: -63 },
  { name: 'portfolio', cjk: false, values: portfolio, left: 714, top: 978, yDomain: [-0.0867, 0.0832], yTicks: ticks3, dec: 3, alpha: 0.001, beta: 1.286, alphaText: '0.001', betaText: '1.286', labelDx: -69 },
]

function fmt(v: number, d: number) {
  const s = Math.abs(v).toFixed(d)
  return v < -1e-9 ? '\u2212' + s : s
}

const tickStyle = { fill: '#000', fontSize: 12.2, fontFamily: MONO }

function Dot(p: any) {
  return <circle cx={p.cx} cy={p.cy} r={4.8} fill={BLUE} />
}

function Equation(p: any) {
  return (
    <text x={p.cx} y={p.cy} fill={RED} fontFamily={MATH} fontSize={20} style={{ whiteSpace: 'pre' }}>
      <tspan fontStyle="italic">r</tspan>
      <tspan fontStyle="italic" fontSize={14} dy={4}>i</tspan>
      <tspan dy={-4}>{` = ${p.alphaText} + ${p.betaText}`}</tspan>
      <tspan fontStyle="italic">r</tspan>
      <tspan fontStyle="italic" fontSize={14} dy={4}>m</tspan>
    </text>
  )
}

function LegendBox({ left, top }: { left: number; top: number }) {
  return (
    <div style={{ position: 'absolute', left, top, width: 133, height: 44, border: '1px solid #d0d0d0', borderRadius: 3, background: 'rgba(255,255,255,0.85)', boxSizing: 'border-box' }}>
      <svg width={133} height={44} style={{ position: 'absolute', left: -1, top: -1 }}>
        <circle cx={21} cy={12} r={4.8} fill={BLUE} />
        <line x1={6} x2={37} y1={31} y2={31} stroke={GREEN} strokeWidth={1.6} />
        <text x={47} y={16} fontFamily={MONO} fontSize={11.8} fill="#000">Data points</text>
        <text x={47} y={35} fontFamily={MONO} fontSize={11.8} fill="#000">CAPM Line</text>
      </svg>
    </div>
  )
}

function Panel(props: any) {
  const { name, cjk, values, left, top, yDomain, yTicks, dec, alpha, beta, alphaText, betaText, labelDx, legendBottom } = props
  const data = values.map((v: number, i: number) => ({ x: marketReturn[i] / 100, y: v / 100 }))
  const xs = marketReturn.map((v) => v / 100)
  const x0 = Math.min(...xs)
  const x1 = Math.max(...xs)
  const cx = PAD_L + PLOT_W / 2
  const ly = PAD_T + PLOT_H / 2
  const lx = PAD_L + labelDx + 7

  return (
    <div style={{ position: 'absolute', left: left - PAD_L, top: top - PAD_T, width: CHART_W, height: CHART_H }}>
      <ScatterChart width={CHART_W} height={CHART_H} margin={{ top: PAD_T, right: CHART_W - PAD_L - PLOT_W, bottom: CHART_H - PAD_T - PLOT_H - AXIS_H, left: 0 }}>
        <XAxis type="number" dataKey="x" domain={xDomain} ticks={xTicks} allowDataOverflow interval={0} height={AXIS_H}
          tickFormatter={(v: number) => fmt(v, 2)} tick={tickStyle} tickSize={5} tickMargin={4}
          axisLine={{ stroke: '#000' }} tickLine={{ stroke: '#000' }} />
        <YAxis type="number" dataKey="y" domain={yDomain} ticks={yTicks} allowDataOverflow interval={0} width={PAD_L}
          tickFormatter={(v: number) => fmt(v, dec)} tick={tickStyle} tickSize={5} tickMargin={4}
          axisLine={{ stroke: '#000' }} tickLine={{ stroke: '#000' }} />
        <Scatter data={data} shape={Dot} isAnimationActive={false} />
        {xTicks.map((t) => (
          <ReferenceLine key={'gx' + t} x={t} stroke={GRID} strokeWidth={0.8} zIndex={610} />
        ))}
        {yTicks.map((t: number) => (
          <ReferenceLine key={'gy' + t} y={t} stroke={GRID} strokeWidth={0.8} zIndex={610} />
        ))}
        <ReferenceLine segment={[{ x: x0, y: alpha + beta * x0 }, { x: x1, y: alpha + beta * x1 }]} stroke={GREEN} strokeWidth={1.6} ifOverflow="visible" zIndex={620} />
        <ReferenceLine y={0} stroke={RED} strokeWidth={2.8} strokeDasharray="10.3 4.4" zIndex={630} />
        <ReferenceLine x={0} stroke={RED} strokeWidth={2.8} strokeDasharray="10.3 4.4" zIndex={630} />
        <ReferenceLine y={yDomain[1]} stroke="#000" strokeWidth={1} zIndex={640} />
        <ReferenceLine x={xDomain[1]} stroke="#000" strokeWidth={1} zIndex={640} />
        <Scatter data={[{ x: 0, y: 0.05 }]} shape={(p: any) => <Equation cx={p.cx} cy={p.cy} alphaText={alphaText} betaText={betaText} />} isAnimationActive={false} zIndex={700} />
      </ScatterChart>
      <svg width={CHART_W} height={CHART_H} style={{ position: 'absolute', left: 0, top: 0, pointerEvents: 'none' }}>
        <text x={cx} y={PAD_T - 8} textAnchor="middle" fill="#000">
          <tspan fontFamily={cjk ? CJK : MONO} fontSize={cjk ? 19.5 : 16.6}>{name}</tspan>
          <tspan fontFamily={MONO} fontSize={16.6}>{' Capital Asset Pricing Model'}</tspan>
        </text>
        <text x={cx} y={PAD_T + PLOT_H + 43} textAnchor="middle" fill="#000" style={{ whiteSpace: 'pre' }}>
          <tspan fontFamily={MONO} fontSize={16}>{'Market return '}</tspan>
          <tspan fontFamily={MATH} fontStyle="italic" fontSize={19}>r</tspan>
          <tspan fontFamily={MATH} fontStyle="italic" fontSize={13} dy={4}>m</tspan>
        </text>
        <text x={lx} y={ly} transform={`rotate(-90 ${lx} ${ly})`} textAnchor="middle" fill="#000" style={{ whiteSpace: 'pre' }}>
          <tspan fontFamily={cjk ? CJK : MONO} fontSize={cjk ? 19.5 : 16}>{name}</tspan>
          <tspan fontFamily={MONO} fontSize={16}>{' return '}</tspan>
          <tspan fontFamily={MATH} fontStyle="italic" fontSize={19}>r</tspan>
          <tspan fontFamily={MATH} fontStyle="italic" fontSize={13} dy={4}>i</tspan>
        </text>
      </svg>
      <LegendBox left={PAD_L + 7} top={legendBottom ? PAD_T + 172 : PAD_T + 8} />
    </div>
  )
}

function EmptyPanel({ left, top }: { left: number; top: number }) {
  return (
    <div style={{ position: 'absolute', left: left - PAD_L, top: top - PAD_T, width: CHART_W, height: CHART_H }}>
      <ScatterChart width={CHART_W} height={CHART_H} margin={{ top: PAD_T, right: CHART_W - PAD_L - PLOT_W, bottom: CHART_H - PAD_T - PLOT_H - AXIS_H, left: 0 }}>
        <XAxis type="number" dataKey="x" domain={[0, 1]} ticks={unitTicks} allowDataOverflow interval={0} height={AXIS_H}
          tickFormatter={(v: number) => fmt(v, 1)} tick={tickStyle} tickSize={5} tickMargin={4}
          axisLine={{ stroke: '#000' }} tickLine={{ stroke: '#000' }} />
        <YAxis type="number" dataKey="y" domain={[0, 1]} ticks={unitTicks} allowDataOverflow interval={0} width={PAD_L}
          tickFormatter={(v: number) => fmt(v, 1)} tick={tickStyle} tickSize={5} tickMargin={4}
          axisLine={{ stroke: '#000' }} tickLine={{ stroke: '#000' }} />
        <Scatter data={[]} shape={Dot} isAnimationActive={false} />
        <ReferenceLine y={1} stroke="#000" strokeWidth={1} />
        <ReferenceLine x={1} stroke="#000" strokeWidth={1} />
      </ScatterChart>
    </div>
  )
}

function CaptureIcon() {
  return (
    <div style={{ position: 'absolute', left: 1179, top: 23, width: 44, height: 44, borderRadius: 22, background: '#fff', boxShadow: '0 1px 6px rgba(0,0,0,0.18)' }}>
      <svg width={44} height={44}>
        <path d="M10 16 V11 H15 M29 11 H34 V16 M34 28 V33 H29 M15 33 H10 V28" fill="none" stroke="#1a73e8" strokeWidth={2.2} strokeLinecap="round" />
        <circle cx={22} cy={22} r={4} fill="none" stroke="#1a73e8" strokeWidth={2.2} />
      </svg>
    </div>
  )
}

export default function App() {
  return (
    <div style={{ position: 'absolute', left: 0, top: 0, width: 1256, height: 1326, background: '#fff', overflow: 'hidden' }}>
      {panels.map((p) => (
        <Panel key={p.name} {...p} />
      ))}
      <EmptyPanel left={97} top={978} />
      <CaptureIcon />
      <div style={{ position: 'absolute', left: 0, top: 1273, width: 1256, height: 2, background: '#d4d4d4' }} />
      <div style={{ position: 'absolute', left: 0, top: 1284, width: 1252, height: 46, background: '#f7f7f7', border: '1px solid #e2e2e2', boxSizing: 'border-box' }} />
      <div style={{ position: 'absolute', left: 4, top: 1293, height: 26, padding: '0 1px', background: '#dcdcdc', fontFamily: "'Liberation Mono', monospace", fontSize: 18, lineHeight: '26px', color: '#222' }}>
        df_all
      </div>
      <div style={{ position: 'absolute', left: 92, top: 1291, fontFamily: CJK, fontStyle: 'italic', fontSize: 21.5, lineHeight: '28px', color: '#3b8e93' }}>
        #查看计算的阿尔法和贝塔值
      </div>
      <div style={{ position: 'absolute', left: 1104, top: 1296, fontFamily: CJK, fontSize: 17.3, lineHeight: '22px', color: '#9a9a9a' }}>
        CSDN @阡之尘埃
      </div>
    </div>
  )
}
